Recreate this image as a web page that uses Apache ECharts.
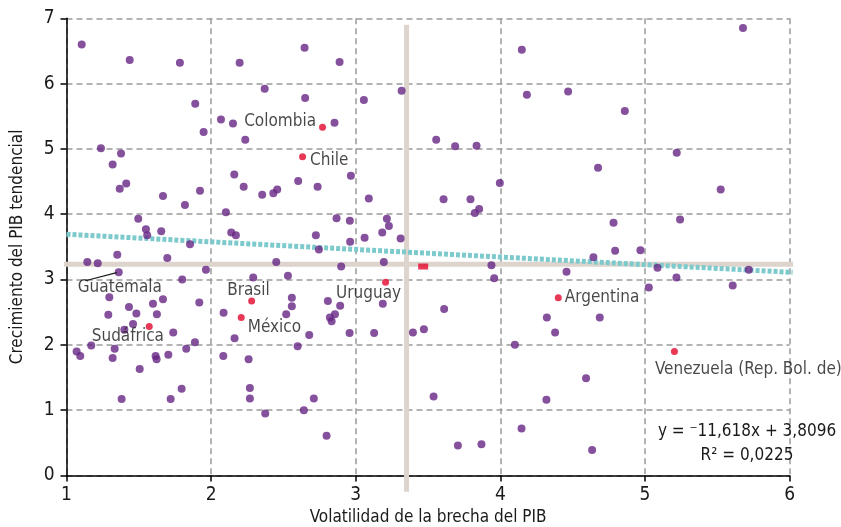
<!DOCTYPE html>
<html><head><meta charset="utf-8">
<script src="https://cdn.jsdelivr.net/npm/echarts@6/dist/echarts.min.js"></script>
<style>html,body{margin:0;padding:0;background:#fff}#c{width:841px;height:527px}</style>
</head><body><div id="c"></div>
<script>
var FONT = "'DejaVu Sans Condensed','Liberation Sans Narrow',sans-serif";
var xTicks = [1, 2, 3, 4, 5, 6];
var yTicks = [0, 1, 2, 3, 4, 5, 6, 7];
var otherPoints = [
[1.105,6.60],[1.437,6.36],[1.784,6.32],[2.197,6.32],[1.890,5.69],[2.068,5.45],[2.151,5.39],[1.948,5.26],
[2.236,5.14],[1.238,5.01],[1.377,4.93],[1.319,4.76],[2.160,4.61],[1.413,4.47],[1.368,4.39],[2.225,4.42],
[1.667,4.28],[1.923,4.36],[1.819,4.14],[2.102,4.03],[1.496,3.93],[1.549,3.77],[1.558,3.68],[1.655,3.74],
[2.139,3.72],[2.171,3.68],[1.854,3.54],[2.646,6.55],[2.888,6.33],[2.370,5.92],[2.650,5.78],[3.056,5.75],
[3.317,5.89],[2.853,5.40],[3.556,5.14],[2.966,4.59],[2.602,4.51],[2.736,4.42],[2.353,4.30],[2.430,4.32],
[2.457,4.38],[3.090,4.24],[2.867,3.94],[2.959,3.90],[3.215,3.93],[3.229,3.82],[3.183,3.72],[2.724,3.68],
[3.061,3.64],[3.310,3.63],[2.961,3.58],[2.745,3.46],[4.148,6.52],[4.183,5.83],[4.468,5.88],[4.860,5.58],
[3.687,5.04],[3.835,5.05],[4.675,4.71],[3.996,4.48],[3.607,4.23],[3.793,4.23],[3.823,4.02],[3.853,4.08],
[4.782,3.87],[4.793,3.44],[5.677,6.85],[5.219,4.94],[5.523,4.38],[5.242,3.92],[4.968,3.45],[1.351,3.38],
[1.697,3.33],[1.144,3.27],[1.216,3.25],[1.964,3.15],[1.800,3.00],[2.291,3.03],[1.296,2.73],[1.667,2.70],
[1.598,2.63],[1.918,2.65],[1.432,2.58],[1.289,2.46],[1.483,2.48],[1.625,2.47],[2.086,2.49],[1.460,2.32],
[1.400,2.23],[1.738,2.19],[1.888,2.04],[1.828,1.94],[1.171,1.99],[1.333,1.94],[2.162,2.10],[1.070,1.90],
[1.095,1.83],[1.319,1.80],[1.616,1.83],[1.623,1.78],[1.704,1.85],[2.084,1.83],[2.259,1.78],[1.506,1.63],
[1.796,1.33],[2.268,1.34],[1.381,1.17],[1.720,1.17],[2.268,1.18],[2.450,3.27],[2.899,3.20],[3.194,3.27],
[2.531,3.06],[2.558,2.72],[2.558,2.59],[2.807,2.67],[2.892,2.60],[3.187,2.63],[2.519,2.47],[2.856,2.47],
[2.821,2.42],[2.833,2.36],[2.678,2.15],[2.957,2.18],[3.127,2.18],[3.395,2.19],[3.471,2.24],[2.598,1.98],
[2.710,1.18],[2.641,1.00],[2.374,0.95],[2.798,0.61],[3.538,1.21],[4.643,3.34],[3.938,3.22],[3.957,3.02],
[4.457,3.12],[3.611,2.55],[4.321,2.42],[4.687,2.42],[4.378,2.19],[4.100,2.00],[4.592,1.49],[4.318,1.16],
[4.146,0.72],[3.706,0.46],[3.869,0.48],[4.634,0.39],[5.086,3.18],[5.217,3.03],[5.717,3.15],[5.026,2.88],
[5.606,2.91]
];
var countryNames = ['Colombia','Chile','Brasil','México','Sudáfrica','Uruguay','Argentina','Venezuela (Rep. Bol. de)'];
var countryX = [2.770, 2.632, 2.280, 2.208, 1.572, 3.206, 4.400, 5.203];
var countryY = [5.33, 4.88, 2.67, 2.42, 2.28, 2.96, 2.72, 1.90];
var guatemala = [1.361, 3.11];
var meanPoint = [3.466, 3.20];
var medianX = 3.351, medianY = 3.234;
var trendSlope = -0.11618, trendIntercept = 3.8096;
var trendRange = [1, 6.02];
var vLineRange = [-0.25, 6.9];
var hLineRange = [0.983, 6.242];

var labelStyle = {
  'Colombia': {position:'left', distance:3, offset:[0,-6]},
  'Chile': {position:'right', distance:4, offset:[0,4]},
  'Brasil': {position:'right', distance:5, offset:[-33,-11]},
  'México': {position:'right', distance:5, offset:[-2,10]},
  'Sudáfrica': {position:'right', distance:5, offset:[-66,10]},
  'Uruguay': {position:'right', distance:5, offset:[-58,11]},
  'Argentina': {position:'right', distance:3, offset:[0,0]},
  'Venezuela (Rep. Bol. de)': {position:'right', distance:5, offset:[-28,18]}
};
var countryData = countryNames.map(function(n,i){
  var ls = labelStyle[n];
  return {name:n, value:[countryX[i], countryY[i]],
    label:{show:true, formatter:n, position:ls.position, distance:ls.distance, offset:ls.offset}};
});
var beige = '#ddd4cd';
var chart = echarts.init(document.getElementById('c'));
var labelText = {color:'#1a1a1a', fontFamily:FONT, fontSize:17};
chart.setOption({
  animation:false,
  grid:{left:66.5, right:51.3, top:18.3, bottom:51.5, outerBoundsMode:'none', containLabel:false},
  xAxis:{type:'value', min:xTicks[0], max:xTicks[xTicks.length-1], interval:1,
    name:'Volatilidad de la brecha del PIB', nameLocation:'middle', nameGap:34,
    nameTextStyle:{color:'#1a1a1a', fontFamily:FONT, fontSize:17},
    axisLine:{show:true, onZero:false, lineStyle:{color:'#000', width:1.5}},
    axisTick:{show:true, length:6, lineStyle:{color:'#000', width:1.5}},
    axisLabel:{color:'#1a1a1a', fontFamily:FONT, fontSize:19, margin:10},
    splitLine:{show:true, lineStyle:{color:'#9a9a9a', type:[6,4], width:1.5}}},
  yAxis:{type:'value', min:yTicks[0], max:yTicks[yTicks.length-1], interval:1,
    name:'Crecimiento del PIB tendencial', nameLocation:'middle', nameGap:40,
    nameTextStyle:{color:'#1a1a1a', fontFamily:FONT, fontSize:17},
    axisLine:{show:true, onZero:false, lineStyle:{color:'#000', width:1.5}},
    axisTick:{show:true, length:6, lineStyle:{color:'#000', width:1.5}},
    axisLabel:{color:'#1a1a1a', fontFamily:FONT, fontSize:19, margin:12},
    splitLine:{show:true, lineStyle:{color:'#9a9a9a', type:[6,4], width:1.5}}},
  series:[
    {type:'line', clip:false, symbol:'none', silent:true, z:2,
     data:[[medianX, vLineRange[0]],[medianX, vLineRange[1]]],
     lineStyle:{color:beige, width:5}},
    {type:'line', clip:false, symbol:'none', silent:true, z:2,
     data:[[hLineRange[0], medianY],[hLineRange[1], medianY]],
     lineStyle:{color:beige, width:5}},
    {type:'line', clip:false, symbol:'none', silent:true, z:3,
     data:trendRange.map(function(x){return [x, trendIntercept + trendSlope*x];}),
     lineStyle:{color:'#7dcacd', width:5, type:[4,2]}},
    {type:'scatter', z:4, symbolSize:8, itemStyle:{color:'#662685'}, data:otherPoints},
    {type:'scatter', z:4, symbolSize:8, itemStyle:{color:'#662685'},
     data:[{name:'Guatemala', value:guatemala,
       label:{show:true, formatter:'Guatemala', position:'right', distance:5, offset:[-50,15]}}],
     label:labelText},
    {type:'scatter', z:5, symbolSize:7, itemStyle:{color:'#e3062c'}, data:countryData, label:labelText},
    {type:'scatter', z:5, symbol:'rect', symbolSize:[10,6], itemStyle:{color:'#e3062c'}, data:[meanPoint]}
  ]
});
var gp = chart.convertToPixel({gridIndex:0}, guatemala);
chart.setOption({graphic:[
  {type:'line', shape:{x1:gp[0]-33.4, y1:gp[1]+8.4, x2:gp[0]-2, y2:gp[1]+0.3},
   style:{stroke:'#1a1a1a', lineWidth:1.2}, z:10},
  {type:'text', x:747, y:432, z:10,
   style:{text:'y = \u207B11,618x + 3,8096', fill:'#1a1a1a', font:'17px '+FONT, textAlign:'center', textVerticalAlign:'middle'}},
  {type:'text', x:747, y:456, z:10,
   style:{text:'R\u00B2 = 0,0225', fill:'#1a1a1a', font:'17px '+FONT, textAlign:'center', textVerticalAlign:'middle'}}
]});
</script></body></html>
